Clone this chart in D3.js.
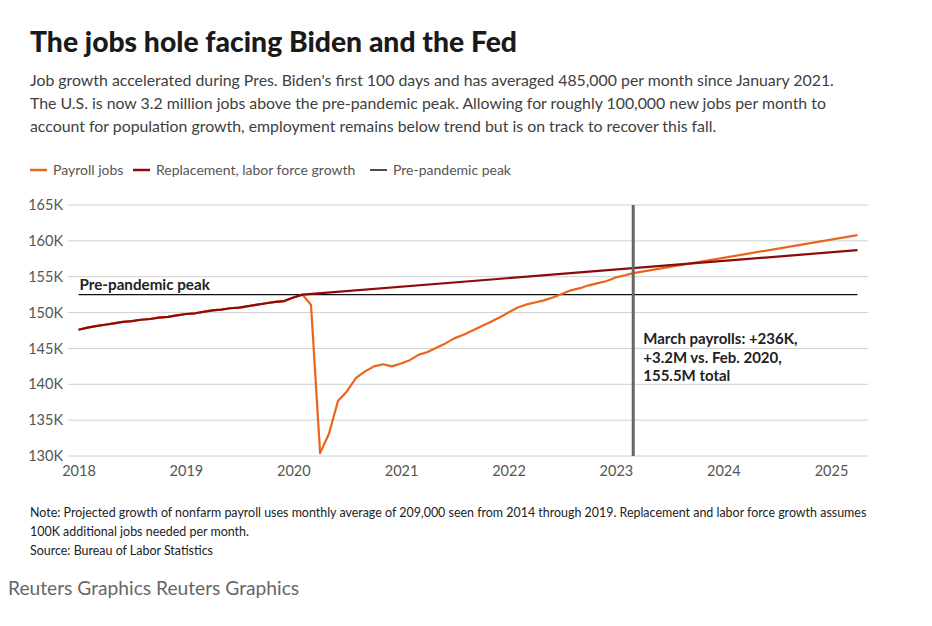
<!DOCTYPE html>
<html lang="en">
<head>
    <meta charset="UTF-8">
    <title>The jobs hole facing Biden and the Fed</title>
    <style>
        body { margin: 0; background: #fff; }
        svg text { font-family: Lato, "Noto Sans", sans-serif; }
        .grid line { stroke: #d0d0d0; stroke-width: 1; }
        .tick text { fill: #555; font-size: 14.5px; }
    </style>
</head>
<body>
    <div id="chart"></div>
    <script src="https://cdn.jsdelivr.net/npm/d3@7"></script>
    <script>

        // monthly nonfarm payrolls, millions -> shown as "K" like the original
        var payrollMonths = [
            "2018-01","2018-02","2018-03","2018-04","2018-05","2018-06","2018-07","2018-08","2018-09","2018-10","2018-11","2018-12",
            "2019-01","2019-02","2019-03","2019-04","2019-05","2019-06","2019-07","2019-08","2019-09","2019-10","2019-11","2019-12",
            "2020-01","2020-02","2020-03","2020-04","2020-05","2020-06","2020-07","2020-08","2020-09","2020-10","2020-11","2020-12",
            "2021-01","2021-02","2021-03","2021-04","2021-05","2021-06","2021-07","2021-08","2021-09","2021-10","2021-11","2021-12",
            "2022-01","2022-02","2022-03","2022-04","2022-05","2022-06","2022-07","2022-08","2022-09","2022-10","2022-11","2022-12",
            "2023-01","2023-02","2023-03","2025-04"
        ];
        var payrollValues = [
            147.6,147.9,148.1,148.3,148.5,148.7,148.8,149.0,149.1,149.3,149.4,149.6,
            149.8,149.9,150.1,150.3,150.4,150.6,150.7,150.9,151.1,151.3,151.5,151.6,
            152.1,152.5,151.1,130.4,133.1,137.7,139.0,140.9,141.8,142.5,142.8,142.5,
            142.9,143.4,144.1,144.5,145.1,145.7,146.4,146.9,147.5,148.1,148.7,149.3,
            150.0,150.7,151.1,151.4,151.7,152.1,152.6,153.1,153.4,153.8,154.1,154.4,
            154.9,155.2,155.5,160.8
        ];

        // replacement / labor force growth: same as payrolls to Feb 2020, then +100K a month
        var replacementMonths = payrollMonths.slice(0, 26).concat(["2025-04"]);
        var replacementValues = payrollValues.slice(0, 26).concat([158.7]);

        var prePandemicPeak = 152.5;
        var markerMonth = "2023-03";

        var yTicks = [130, 135, 140, 145, 150, 155, 160, 165];
        var xTickYears = [2018, 2019, 2020, 2021, 2022, 2023, 2024, 2025];

        var width = 932, height = 626;
        var parse = d3.timeParse("%Y-%m");

        var svg = d3.select("#chart").append("svg")
            .attr("width", width)
            .attr("height", height);

        // header
        svg.append("text")
            .attr("x", 30).attr("y", 52)
            .style("font-size", "28.3px").style("font-weight", "900").style("fill", "#1a1a1a")
            .text("The jobs hole facing Biden and the Fed");

        var sub = [
            "Job growth accelerated during Pres. Biden's first 100 days and has averaged 485,000 per month since January 2021.",
            "The U.S. is now 3.2 million jobs above the pre-pandemic peak. Allowing for roughly 100,000 new jobs per month to",
            "account for population growth, employment remains below trend but is on track to recover this fall."
        ];
        svg.append("g").selectAll("text")
            .data(sub)
            .enter().append("text")
            .attr("x", 30)
            .attr("y", (d, i) => 86 + i * 23)
            .style("font-size", "15.85px").style("fill", "#404040")
            .text(d => d);

        // legend
        var legend = [
            { name: "Payroll jobs", color: "#ec6419", x: 30 },
            { name: "Replacement, labor force growth", color: "#8c0a0a", x: 133 },
            { name: "Pre-pandemic peak", color: "#111", x: 370 }
        ];
        var lg = svg.append("g").selectAll("g")
            .data(legend)
            .enter().append("g")
            .attr("transform", d => "translate(" + d.x + ",170)");
        lg.append("line")
            .attr("x1", 0).attr("x2", 17)
            .attr("stroke", d => d.color)
            .attr("stroke-width", d => d.name == "Pre-pandemic peak" ? 1.5 : 2.5);
        lg.append("text")
            .attr("x", 23).attr("y", 5)
            .style("font-size", "14px").style("fill", "#555")
            .text(d => d.name);

        // scales
        var x = d3.scaleTime()
            .domain([parse("2018-01"), parse("2025-01")])
            .range([78.5, 831]);
        var y = d3.scaleLinear()
            .domain([130, 165])
            .range([456, 205]);

        var grid = svg.append("g").attr("class", "grid");
        grid.selectAll("line")
            .data(yTicks)
            .enter().append("line")
            .attr("x1", 68).attr("x2", 868)
            .attr("y1", d => y(d)).attr("y2", d => y(d));

        var yAxis = svg.append("g")
            .attr("transform", "translate(63,0)")
            .call(d3.axisLeft(y).tickValues(yTicks).tickSize(0).tickFormat(d => d + "K"));
        yAxis.select(".domain").remove();
        yAxis.selectAll("text").attr("x", 0);

        var xAxis = svg.append("g")
            .attr("transform", "translate(0,463)")
            .call(d3.axisBottom(x).tickValues(xTickYears.map(d => new Date(d, 0, 1)))
                .tickSize(0).tickFormat(d3.timeFormat("%Y")));
        xAxis.select(".domain").remove();
        xAxis.selectAll("text").attr("dy", "0.71em");

        // pre-pandemic peak
        svg.append("line")
            .attr("x1", x(parse("2018-01"))).attr("x2", x(parse("2025-04")))
            .attr("y1", y(prePandemicPeak)).attr("y2", y(prePandemicPeak))
            .attr("stroke", "#111").attr("stroke-width", 1.2);
        svg.append("text")
            .attr("x", x(parse("2018-01")) + 1).attr("y", y(prePandemicPeak) - 5)
            .style("font-size", "15.2px").style("font-weight", "bold").style("fill", "#222")
            .text("Pre-pandemic peak");

        var line = d3.line()
            .x(d => x(parse(d[0])))
            .y(d => y(d[1]));

        svg.append("path")
            .datum(d3.zip(payrollMonths, payrollValues))
            .attr("fill", "none")
            .attr("stroke", "#ec6419")
            .attr("stroke-width", 2.2)
            .attr("stroke-linejoin", "round")
            .attr("d", line);

        svg.append("path")
            .datum(d3.zip(replacementMonths, replacementValues))
            .attr("fill", "none")
            .attr("stroke", "#8c0a0a")
            .attr("stroke-width", 2.2)
            .attr("stroke-linejoin", "round")
            .attr("d", line);

        // march marker
        var mx = x(parse(markerMonth));
        svg.append("line")
            .attr("x1", mx).attr("x2", mx)
            .attr("y1", y(165)).attr("y2", y(130))
            .attr("stroke", "#666").attr("stroke-width", 3);

        var note = ["March payrolls: +236K,", "+3.2M vs. Feb. 2020,", "155.5M total"];
        svg.append("g").selectAll("text")
            .data(note)
            .enter().append("text")
            .attr("x", mx + 10)
            .attr("y", (d, i) => 344 + i * 18.5)
            .style("font-size", "15px").style("font-weight", "bold").style("fill", "#222")
            .text(d => d);

        // footer
        var foot = [
            "Note: Projected growth of nonfarm payroll uses monthly average of 209,000 seen from 2014 through 2019. Replacement and labor force growth assumes",
            "100K additional jobs needed per month.",
            "Source: Bureau of Labor Statistics"
        ];
        svg.append("g").selectAll("text")
            .data(foot)
            .enter().append("text")
            .attr("x", 30)
            .attr("y", (d, i) => 517 + i * 19)
            .style("font-size", "12.45px").style("fill", "#222")
            .text(d => d);

        svg.append("text")
            .attr("x", 8).attr("y", 595)
            .style("font-size", "19.2px").style("fill", "#666")
            .text("Reuters Graphics Reuters Graphics");
    </script>
</body>
</html>
